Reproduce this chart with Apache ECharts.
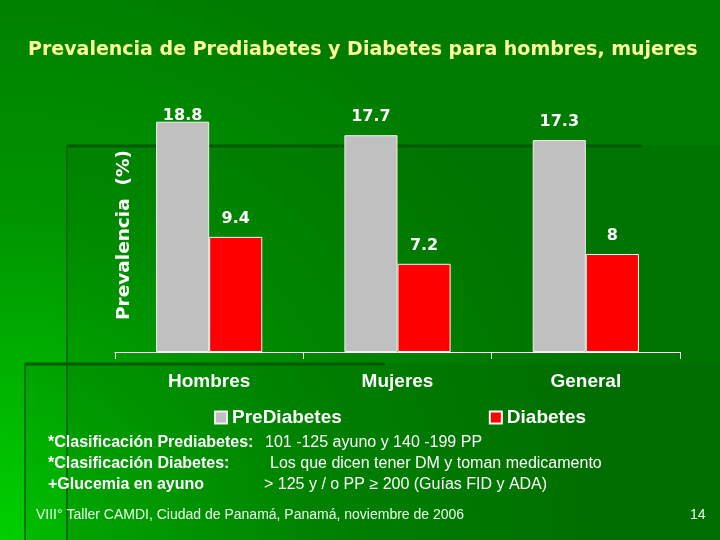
<!DOCTYPE html>
<html><head><meta charset="utf-8">
<script src="https://cdn.jsdelivr.net/npm/echarts@6/dist/echarts.min.js"></script>
<style>html,body{margin:0;padding:0;background:#008000}#c{width:720px;height:540px}</style>
</head><body><div id="c"></div>
<script>
const categories = ['Hombres', 'Mujeres', 'General'];
const preDiabetes = [18.8, 17.7, 17.3];
const diabetes = [9.4, 7.2, 8];
const seriesNames = ['PreDiabetes', 'Diabetes'];
const titleText = 'Prevalencia de Prediabetes y Diabetes para hombres, mujeres';
const yAxisName = 'Prevalencia  (%)';
const noteLabels = ['*Clasificación Prediabetes:', '*Clasificación Diabetes:', '+Glucemia en ayuno'];
const noteValues = ['101 -125 ayuno y 140 -199 PP', 'Los que dicen tener DM y toman medicamento', '> 125 y / o PP ≥ 200 (Guías FID y ADA)'];
const footerText = 'VIII° Taller CAMDI, Ciudad de Panamá, Panamá, noviembre de 2006';
const pageNumber = '14';

const chart = echarts.init(document.getElementById('c'));
const FF = '"Liberation Sans", Arial, sans-serif';
const FD = '"DejaVu Sans", Verdana, sans-serif';

const graphics = [
  { type: 'rect', z: -10, shape: { x: 0, y: 0, width: 720, height: 540 },
    style: { fill: new echarts.graphic.RadialGradient(0, 1, 1.1, [
      { offset: 0, color: '#00d000' }, { offset: 0.55, color: '#009400' }, { offset: 1, color: '#007c00' }]) } },
  { type: 'rect', z: -9, shape: { x: 67, y: 145, width: 653, height: 395 }, style: { fill: 'rgba(0,70,0,0.14)' } },
  { type: 'rect', z: -9, shape: { x: 25, y: 363, width: 695, height: 177 }, style: { fill: 'rgba(0,70,0,0.12)' } },
  { type: 'line', z: -8, shape: { x1: 67, y1: 146, x2: 642, y2: 146 }, style: { stroke: '#005a00', lineWidth: 3 } },
  { type: 'line', z: -8, shape: { x1: 67, y1: 145, x2: 67, y2: 540 }, style: { stroke: '#006800', lineWidth: 2 } },
  { type: 'line', z: -8, shape: { x1: 25, y1: 364, x2: 385, y2: 364 }, style: { stroke: '#005a00', lineWidth: 3 } },
  { type: 'line', z: -8, shape: { x1: 25, y1: 363, x2: 25, y2: 540 }, style: { stroke: '#007000', lineWidth: 2 } },
  { type: 'text', x: 124, y: 235, rotation: Math.PI / 2,
    style: { text: yAxisName, fill: '#ffffff', font: 'bold 18.5px ' + FD, align: 'center', verticalAlign: 'middle' } },
  { type: 'text', x: 690, y: 515, style: { text: pageNumber, fill: '#e8ffe8', font: '14px ' + FF, align: 'left', verticalAlign: 'middle' } },
  { type: 'text', x: 36, y: 515, style: { text: footerText, fill: '#e8ffe8', font: '14px ' + FF, align: 'left', verticalAlign: 'middle' } }
];
noteLabels.forEach((t, i) => {
  graphics.push({ type: 'text', x: 48, y: 443 + i * 21,
    style: { text: t, fill: '#ffffff', font: 'bold 16px ' + FF, align: 'left', verticalAlign: 'middle' } });
});
noteValues.forEach((t, i) => {
  graphics.push({ type: 'text', x: [265, 270, 264][i], y: 443 + i * 21,
    style: { text: t, fill: '#ffffff', font: '16px ' + FF, align: 'left', verticalAlign: 'middle' } });
});

chart.setOption({
  animation: false,
  title: { text: titleText, left: 28, top: 41, padding: 0,
    textStyle: { color: '#ffff99', fontSize: 19, fontWeight: 'bold', fontFamily: FD } },
  legend: { data: seriesNames, left: 209, top: 403, icon: 'rect', itemWidth: 12, itemHeight: 12, itemGap: 147,
    textStyle: { color: '#ffffff', fontSize: 19, fontWeight: 'bold', fontFamily: FF, padding: [0, 0, 0, 0] } },
  grid: { left: 115, right: 40, top: 107, bottom: 188, containLabel: false },
  xAxis: { type: 'category', data: categories,
    axisLine: { lineStyle: { color: '#ffffff', width: 1 } },
    axisTick: { show: true, length: 7, lineStyle: { color: '#ffffff' } },
    axisLabel: { color: '#ffffff', fontSize: 19, fontWeight: 'bold', fontFamily: FF, margin: 20 } },
  yAxis: { type: 'value', min: 0, max: 20, show: false, splitLine: { show: false } },
  graphic: graphics,
  series: [
    { name: seriesNames[0], type: 'bar', barGap: '0%', barCategoryGap: '43.6%',
      itemStyle: { color: '#c0c0c0', borderColor: '#f0f0f0', borderWidth: 1 },
      label: { show: true, position: 'top', distance: 10, color: '#ffffff', fontSize: 16, fontWeight: 'bold', fontFamily: FD },
      data: preDiabetes.map((v, i) => i === 0 ? { value: v, label: { distance: -2 } } : v) },
    { name: seriesNames[1], type: 'bar',
      itemStyle: { color: '#ff0000', borderColor: '#f8f8f8', borderWidth: 1 },
      label: { show: true, position: 'top', distance: 10, color: '#ffffff', fontSize: 16, fontWeight: 'bold', fontFamily: FD },
      data: diabetes }
  ]
});
</script></body></html>
